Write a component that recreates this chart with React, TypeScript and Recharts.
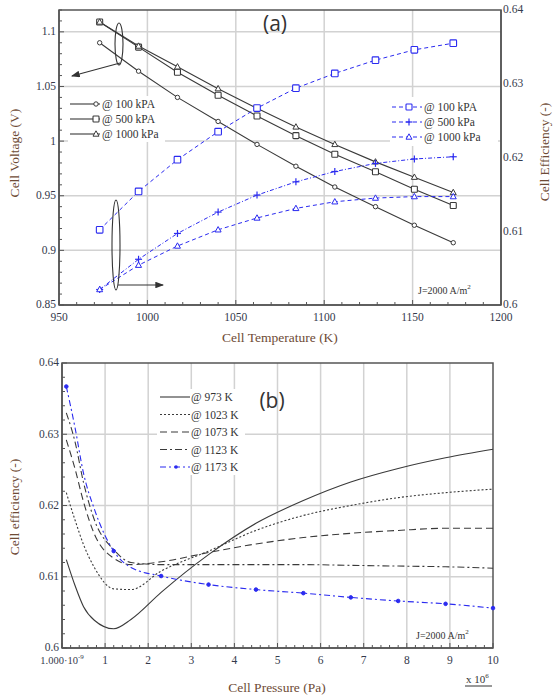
import React from 'react';
import { LineChart, Line, XAxis, YAxis, CartesianGrid, ReferenceArea } from 'recharts';

// ---- (a) cell voltage / efficiency vs temperature ----
const temperatures = [973, 995, 1017, 1040, 1062, 1084, 1106, 1129, 1151, 1173];
const voltage100 = [1.09, 1.064, 1.04, 1.018, 0.997, 0.977, 0.958, 0.94, 0.923, 0.907];
const voltage500 = [1.109, 1.086, 1.063, 1.042, 1.023, 1.005, 0.988, 0.972, 0.956, 0.941];
const voltage1000 = [1.109, 1.087, 1.068, 1.048, 1.03, 1.013, 0.997, 0.981, 0.967, 0.953];
const efficiency100 = [0.6102, 0.6154, 0.6197, 0.6235, 0.6267, 0.6294, 0.6314, 0.6332, 0.6346, 0.6355];
const efficiency500 = [0.6021, 0.6062, 0.6097, 0.6126, 0.6149, 0.6167, 0.6181, 0.6192, 0.6198, 0.6201];
const efficiency1000 = [0.6021, 0.6054, 0.608, 0.6102, 0.6118, 0.6131, 0.614, 0.6145, 0.6147, 0.6147];

const tempTicks = [950, 1000, 1050, 1100, 1150, 1200];
const voltTicks = [0.85, 0.9, 0.95, 1, 1.05, 1.1];
const effTicks = [0.6, 0.61, 0.62, 0.63, 0.64];

// ---- (b) efficiency vs pressure (x10^6 Pa) ----
const pressures = [0.1, 0.3, 0.5, 0.75, 1.2, 1.6, 2.3, 3.4, 4.5, 5.6, 6.7, 7.8, 8.9, 10];
const eff973 = [0.6124, 0.6088, 0.6058, 0.6039, 0.6027, 0.604, 0.6078, 0.6131, 0.6175, 0.6207, 0.6233, 0.6252, 0.6267, 0.6279];
const eff1023 = [0.6218, 0.618, 0.6145, 0.6113, 0.6083, 0.6082, 0.6108, 0.6136, 0.6165, 0.6186, 0.62, 0.6211, 0.6218, 0.6223];
const eff1073 = [0.6292, 0.6252, 0.6205, 0.616, 0.6126, 0.6117, 0.6121, 0.6134, 0.6146, 0.6155, 0.6161, 0.6165, 0.6168, 0.6168];
const eff1123 = [0.633, 0.629, 0.6232, 0.618, 0.6138, 0.612, 0.6117, 0.6117, 0.6117, 0.6117, 0.6116, 0.6115, 0.6114, 0.6112];
const eff1173 = [0.6367, 0.631, 0.6245, 0.6195, 0.6136, 0.6113, 0.6101, 0.6089, 0.6082, 0.6077, 0.6071, 0.6066, 0.6062, 0.6056];
const markerPressures = [0.1, 1.2, 2.3, 3.4, 4.5, 5.6, 6.7, 7.8, 8.9, 10];
const pressTicks = [0, 1, 2, 3, 4, 5, 6, 7, 8, 9, 10];

const dataA = temperatures.map((t, i) => ({
  t,
  v100: voltage100[i],
  v500: voltage500[i],
  v1000: voltage1000[i],
  e100: efficiency100[i],
  e500: efficiency500[i],
  e1000: efficiency1000[i],
}));

const dataB = pressures.map((p, i) => ({
  p,
  k973: eff973[i],
  k1023: eff1023[i],
  k1073: eff1073[i],
  k1123: eff1123[i],
  k1173: eff1173[i],
}));

const round = (v: number) => Math.round(v * 1e6) / 1e6;
const steps = (a: number, b: number, s: number) => {
  const out: number[] = [];
  for (let v = a; v <= b + 1e-9; v += s) out.push(round(v));
  return out;
};
const isIn = (list: number[], v: number) => list.some((m) => Math.abs(m - v) < 1e-6);

const SERIF = '"Liberation Serif", "Times New Roman", serif';
const SANS = '"Open Sans", "DejaVu Sans", sans-serif';
const BLACK = '#3a3a3a';
const BLUE = '#2b2bf0';
const AXIS = '#555';
const TICK_TEXT = '#343a4c';
const LABEL = '#6e4b36';
const GRID = '#d2d2d2';

// ---- markers ----
const Circle = ({ cx, cy, color, r = 2.2 }: any) => (
  <circle cx={cx} cy={cy} r={r} fill="#fff" stroke={color} strokeWidth={1} />
);
const Square = ({ cx, cy, color, s = 3 }: any) => (
  <rect x={cx - s} y={cy - s} width={2 * s} height={2 * s} rx={0.8} fill="#fff" stroke={color} strokeWidth={1.1} />
);
const Triangle = ({ cx, cy, color }: any) => (
  <path d={`M${cx},${cy - 3.2} L${cx + 3},${cy + 2.2} L${cx - 3},${cy + 2.2} Z`} fill="#fff" stroke={color} strokeWidth={1} />
);
const Plus = ({ cx, cy, color }: any) => (
  <g stroke={color} strokeWidth={1.2}>
    <line x1={cx - 3.5} x2={cx + 3.5} y1={cy} y2={cy} />
    <line x1={cx} x2={cx} y1={cy - 3.5} y2={cy + 3.5} />
  </g>
);

const dotOf = (Shape: any, color: string, extra: any = {}) => (props: any) => (
  <Shape key={`d-${props.index}`} cx={props.cx} cy={props.cy} color={color} {...extra} />
);

const blueMarkerDot = (props: any) => {
  const p = pressures[props.index];
  if (!isIn(markerPressures, p)) return <g key={`m-${props.index}`} />;
  return <circle key={`m-${props.index}`} cx={props.cx} cy={props.cy} r={1.8} fill={BLUE} stroke={BLUE} />;
};

// ---- ticks ----
const bottomTick = (majors: number[], fmt: (v: number) => React.ReactNode, minorLen = 3) => (props: any) => {
  const { x, y, payload } = props;
  const major = isIn(majors, payload.value);
  return (
    <g>
      <line x1={x} x2={x} y1={y} y2={y - (major ? 5 : minorLen)} stroke={AXIS} strokeWidth={1} />
      {major && (
        <text x={x} y={y + 16} textAnchor="middle" fontFamily={SERIF} fontSize={11.5} fill={TICK_TEXT}>
          {fmt(payload.value)}
        </text>
      )}
    </g>
  );
};

const leftTick = (majors: number[]) => (props: any) => {
  const { x, y, payload } = props;
  const major = isIn(majors, payload.value);
  return (
    <g>
      <line x1={x} x2={x + (major ? 5 : 3)} y1={y} y2={y} stroke={AXIS} strokeWidth={1} />
      {major && (
        <text x={x - 3} y={y} dy="0.3em" textAnchor="end" fontFamily={SERIF} fontSize={11.5} fill={TICK_TEXT}>
          {String(round(payload.value))}
        </text>
      )}
    </g>
  );
};

const rightTick = (props: any) => {
  const { x, y, payload } = props;
  return (
    <text x={x + 2} y={y} dy="0.3em" textAnchor="start" fontFamily={SERIF} fontSize={11.5} fill={TICK_TEXT}>
      {String(round(payload.value))}
    </text>
  );
};

const pressFmt = (v: number) =>
  v === 0 ? (
    <tspan fontSize={10.5}>
      1.000·10<tspan dy={-5} fontSize={7}>-9</tspan>
    </tspan>
  ) : (
    String(v)
  );

function ChartA() {
  return (
    <LineChart width={554} height={330} data={dataA} margin={{ top: 10, right: 13, bottom: 9, left: 14 }}>
      <CartesianGrid
        yAxisId="v"
        stroke={GRID}
        strokeWidth={1.5}
        verticalValues={[1000, 1050, 1100, 1150]}
        horizontalValues={[0.9, 0.95, 1, 1.05, 1.1]}
      />
      <XAxis
        dataKey="t"
        type="number"
        domain={[950, 1200]}
        ticks={steps(950, 1200, 10)}
        interval={0}
        height={16}
        tickSize={0}
        tickMargin={0}
        tickLine={false}
        axisLine={{ stroke: AXIS, strokeWidth: 1.5 }}
        tick={bottomTick(tempTicks, (v) => String(v))}
      />
      <YAxis
        yAxisId="v"
        type="number"
        domain={[0.85, 1.12]}
        allowDataOverflow
        ticks={steps(0.85, 1.12, 0.01)}
        interval={0}
        width={45}
        tickSize={0}
        tickMargin={0}
        tickLine={false}
        axisLine={{ stroke: AXIS, strokeWidth: 1.5 }}
        tick={leftTick(voltTicks)}
      />
      <YAxis
        yAxisId="e"
        orientation="right"
        type="number"
        domain={[0.6, 0.64]}
        allowDataOverflow
        ticks={effTicks}
        interval={0}
        width={40}
        tickSize={0}
        tickMargin={0}
        tickLine={false}
        axisLine={{ stroke: AXIS, strokeWidth: 1.5 }}
        tick={rightTick}
      />
      <ReferenceArea
        yAxisId="v"
        x1={950}
        x2={1200}
        y1={0.85}
        y2={1.12}
        fill="none"
        stroke={AXIS}
        strokeWidth={1.5}
        ifOverflow="visible"
      />
      <Line yAxisId="v" dataKey="v100" stroke={BLACK} strokeWidth={1.1} dot={dotOf(Circle, BLACK)} isAnimationActive={false} />
      <Line yAxisId="v" dataKey="v500" stroke={BLACK} strokeWidth={1.1} dot={dotOf(Square, BLACK)} isAnimationActive={false} />
      <Line yAxisId="v" dataKey="v1000" stroke={BLACK} strokeWidth={1.1} dot={dotOf(Triangle, BLACK)} isAnimationActive={false} />
      <Line yAxisId="e" dataKey="e100" stroke={BLUE} strokeWidth={1} strokeDasharray="4 3" dot={dotOf(Square, BLUE, { s: 3.3 })} isAnimationActive={false} />
      <Line yAxisId="e" dataKey="e500" stroke={BLUE} strokeWidth={1} strokeDasharray="4 2 1 2" dot={dotOf(Plus, BLUE)} isAnimationActive={false} />
      <Line yAxisId="e" dataKey="e1000" stroke={BLUE} strokeWidth={1} strokeDasharray="4 3" dot={dotOf(Triangle, BLUE)} isAnimationActive={false} />
    </LineChart>
  );
}

function ChartB() {
  return (
    <LineChart width={554} height={367} data={dataB} margin={{ top: 33, right: 61, bottom: 29, left: 14 }}>
      <CartesianGrid
        stroke={GRID}
        strokeWidth={1.5}
        verticalValues={[1, 2, 3, 4, 5, 6, 7, 8, 9]}
        horizontalValues={[0.61, 0.62, 0.63]}
      />
      <XAxis
        dataKey="p"
        type="number"
        domain={[0, 10]}
        ticks={steps(0, 10, 0.2)}
        interval={0}
        height={20}
        tickSize={0}
        tickMargin={0}
        tickLine={false}
        axisLine={{ stroke: AXIS, strokeWidth: 1.5 }}
        tick={bottomTick(pressTicks, pressFmt)}
      />
      <YAxis
        type="number"
        domain={[0.6, 0.64]}
        allowDataOverflow
        ticks={steps(0.6, 0.64, 0.002)}
        interval={0}
        width={48}
        tickSize={0}
        tickMargin={0}
        tickLine={false}
        axisLine={{ stroke: AXIS, strokeWidth: 1.5 }}
        tick={leftTick(effTicks)}
      />
      <ReferenceArea x1={0} x2={10} y1={0.6} y2={0.64} fill="none" stroke={AXIS} strokeWidth={1.5} ifOverflow="visible" />
      <Line type="monotone" dataKey="k973" stroke={BLACK} strokeWidth={1.1} dot={false} isAnimationActive={false} />
      <Line type="monotone" dataKey="k1023" stroke={BLACK} strokeWidth={1.1} strokeDasharray="2 2" dot={false} isAnimationActive={false} />
      <Line type="monotone" dataKey="k1073" stroke={BLACK} strokeWidth={1.1} strokeDasharray="7 4" dot={false} isAnimationActive={false} />
      <Line type="monotone" dataKey="k1123" stroke={BLACK} strokeWidth={1.1} strokeDasharray="7 3 2 3" dot={false} isAnimationActive={false} />
      <Line type="monotone" dataKey="k1173" stroke={BLUE} strokeWidth={1.1} strokeDasharray="6 3 2 3" dot={blueMarkerDot} isAnimationActive={false} />
    </LineChart>
  );
}

const legendA = [
  { label: '@ 100 kPA', Shape: Circle },
  { label: '@ 500 kPA', Shape: Square },
  { label: '@ 1000 kPa', Shape: Triangle },
];
const legendABlue = [
  { label: '@ 100 kPA', Shape: Square },
  { label: '@ 500 kPa', Shape: Plus },
  { label: '@ 1000 kPa', Shape: Triangle },
];
const legendB = [
  { label: '@ 973 K', color: BLACK, dash: undefined },
  { label: '@ 1023 K', color: BLACK, dash: '2 2' },
  { label: '@ 1073 K', color: BLACK, dash: '7 4' },
  { label: '@ 1123 K', color: BLACK, dash: '7 3 2 3' },
  { label: '@ 1173 K', color: BLUE, dash: '6 3 2 3' },
];

function Overlay() {
  const txt = { fontFamily: SERIF, fontSize: 11.5, fill: '#333' };
  return (
    <svg width={554} height={697} style={{ position: 'absolute', left: 0, top: 0, pointerEvents: 'none' }}>
      <defs>
        <marker id="arr" markerWidth="8" markerHeight="6" refX="7" refY="3" orient="auto">
          <path d="M0,0 L8,3 L0,6 Z" fill="#333" />
        </marker>
      </defs>

      {/* (a) */}
      <text x={275} y={31} textAnchor="middle" fontFamily={SANS} fontSize={21} fill="#333">(a)</text>
      <text transform="translate(19,153) rotate(-90)" textAnchor="middle" fontFamily={SERIF} fontSize={13.5} fill={LABEL}>Cell Voltage (V)</text>
      <text transform="translate(549,152) rotate(-90)" textAnchor="middle" fontFamily={SERIF} fontSize={13.5} fill={LABEL}>Cell Efficiency (-)</text>
      <text x={280} y={342} textAnchor="middle" fontFamily={SERIF} fontSize={13.5} fill={LABEL}>Cell Temperature (K)</text>
      <text x={418} y={294} fontFamily={SERIF} fontSize={10} fill="#333">
        J=2000 A/m<tspan dy={-5} fontSize={7}>2</tspan>
      </text>

      <ellipse cx={119} cy={44} rx={4} ry={21} fill="none" stroke="#333" strokeWidth={1.1} />
      <line x1={120} y1={63} x2={72} y2={76} stroke="#333" strokeWidth={1.1} markerEnd="url(#arr)" />
      <ellipse cx={116} cy={245} rx={4} ry={45} fill="none" stroke="#333" strokeWidth={1.1} />
      <line x1={118} y1={285} x2={163} y2={285} stroke="#333" strokeWidth={1.1} markerEnd="url(#arr)" />

      <rect x={68} y={96} width={97} height={46} fill="#fff" />
      {legendA.map((e, i) => {
        const y = 104 + i * 15;
        return (
          <g key={e.label}>
            <line x1={70} x2={100} y1={y} y2={y} stroke={BLACK} strokeWidth={1.1} />
            <e.Shape cx={96} cy={y} color={BLACK} />
            <text x={102} y={y} dy="0.35em" {...txt}>{e.label}</text>
          </g>
        );
      })}
      <rect x={390} y={97} width={108} height={49} fill="#fff" />
      {legendABlue.map((e, i) => {
        const y = 107 + i * 15;
        return (
          <g key={e.label}>
            <line x1={392} x2={422} y1={y} y2={y} stroke={BLUE} strokeWidth={1} strokeDasharray="4 3" />
            <e.Shape cx={409} cy={y} color={BLUE} />
            <text x={424} y={y} dy="0.35em" {...txt}>{e.label}</text>
          </g>
        );
      })}

      {/* (b) */}
      <text x={272} y={408} textAnchor="middle" fontFamily={SANS} fontSize={21} fill="#333">(b)</text>
      <text transform="translate(19,507) rotate(-90)" textAnchor="middle" fontFamily={SERIF} fontSize={13.5} fill={LABEL}>Cell efficiency (-)</text>
      <text x={277} y={692} textAnchor="middle" fontFamily={SERIF} fontSize={13.5} fill={LABEL}>Cell Pressure (Pa)</text>
      <text x={466} y={683} fontFamily={SERIF} fontSize={11} fill="#333">
        x 10<tspan dy={-5} fontSize={7}>6</tspan>
      </text>
      <line x1={465} x2={492} y1={686} y2={686} stroke="#333" strokeWidth={1} />
      <text x={416} y={639} fontFamily={SERIF} fontSize={10} fill="#333">
        J=2000 A/m<tspan dy={-5} fontSize={7}>2</tspan>
      </text>

      <rect x={157} y={389} width={88} height={86} fill="#fff" />
      {legendB.map((e, i) => {
        const y = 397 + i * 17.5;
        return (
          <g key={e.label}>
            <line x1={160} x2={190} y1={y} y2={y} stroke={e.color} strokeWidth={1.1} strokeDasharray={e.dash} />
            {i === 4 && <circle cx={176} cy={y} r={1.8} fill={BLUE} />}
            <text x={191} y={y} dy="0.35em" {...txt}>{e.label}</text>
          </g>
        );
      })}
    </svg>
  );
}

export default function App() {
  return (
    <div style={{ position: 'absolute', left: 0, top: 0, width: 554, height: 697, background: '#fff' }}>
      <div style={{ position: 'absolute', left: 0, top: 0 }}>
        <ChartA />
      </div>
      <div style={{ position: 'absolute', left: 0, top: 330 }}>
        <ChartB />
      </div>
      <Overlay />
    </div>
  );
}
